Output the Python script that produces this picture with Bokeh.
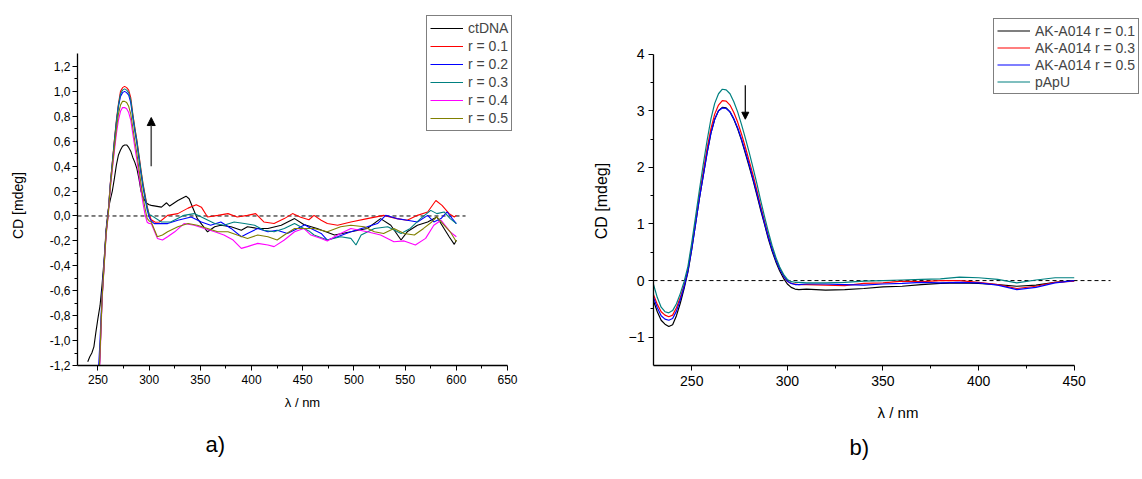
from bokeh.plotting import figure
from bokeh.layouts import row
from bokeh.models import FixedTicker, Legend, LegendItem, Arrow, NormalHead, Title
from bokeh.embed import file_html
from bokeh.resources import INLINE

FONT = "Liberation Sans"

# ---------------- panel a) data ----------------
A_PEAK_NM = [246, 248, 250, 252, 254, 256, 258, 260, 262, 264, 266, 268, 270, 272,
             274, 276, 278, 280, 282, 284, 286, 288, 290, 292, 294, 296, 298, 300]

CT_NM = [240, 242, 244, 246, 248, 250, 252, 254, 256, 258, 260, 262, 264, 266, 268, 270,
         272, 274, 276, 278, 280, 282, 284, 286, 288, 290, 292, 294, 296, 298, 300,
         302, 312, 317, 320, 328, 336, 339, 343, 347, 357, 364, 370, 380, 390, 396, 406,
         416, 429, 442, 451, 464, 481, 497, 513, 526, 536, 546, 552, 562, 572, 581, 586,
         593, 598, 600]
CT_CD = [-1.17, -1.13, -1.10, -1.05, -0.93, -0.82, -0.72, -0.55, -0.35, -0.10, 0.05, 0.13,
         0.20, 0.30, 0.41, 0.49, 0.53, 0.56, 0.57, 0.57, 0.55, 0.52, 0.47, 0.43, 0.38, 0.30,
         0.20, 0.15, 0.12, 0.10, 0.09,
         0.085, 0.071, 0.106, 0.08, 0.124, 0.159, 0.138, 0.058, -0.021, -0.127, -0.087,
         -0.074, -0.087, -0.114, -0.087, -0.10, -0.10, -0.074, -0.021, -0.069, -0.10,
         -0.153, -0.127, -0.10, -0.021, -0.074, -0.193, -0.127, -0.074, -0.048, -0.008,
         -0.074, -0.167, -0.228, -0.193]

R1_PEAK = [-2.2, -1.7, -1.45, -1.1, -0.65, -0.38, -0.12, 0.03, 0.26, 0.43, 0.61, 0.77, 0.90,
           1.00, 1.03, 1.04, 1.03, 1.01, 0.95, 0.82, 0.71, 0.61, 0.49, 0.37, 0.26, 0.17, 0.08, 0.01]
R1_TAIL_NM = [302, 306, 310, 318, 328, 338, 346, 351, 357, 367, 377, 386, 396, 404, 412, 422,
              432, 440, 448, 456, 461, 468, 474, 484, 497, 513, 529, 542, 552, 562, 572, 580,
              586, 593, 598, 600]
R1_TAIL = [-0.03, -0.05, -0.048, 0.005, 0.019, 0.063, 0.09, 0.071, -0.008, 0.005, 0.019,
           -0.008, 0.005, 0.019, -0.048, -0.061, -0.021, 0.019, -0.01, -0.03, 0.005, -0.034,
           -0.061, -0.074, -0.048, -0.021, 0.005, -0.021, -0.034, 0.005, 0.032, 0.124, 0.085,
           0.019, -0.008, 0.005]

R2_PEAK = [-2.0, -1.55, -1.3, -1.0, -0.62, -0.37, -0.12, 0.03, 0.25, 0.42, 0.59, 0.75, 0.88,
           0.96, 0.99, 1.00, 0.99, 0.97, 0.91, 0.79, 0.68, 0.58, 0.46, 0.34, 0.23, 0.14, 0.05, -0.01]
R2_TAIL_NM = [302, 305, 318, 328, 341, 351, 360, 370, 380, 390, 396, 406, 416, 425, 435, 445,
              452, 458, 468, 474, 484, 497, 513, 523, 531, 542, 552, 562, 572, 578, 585, 591,
              596, 600]
R2_TAIL = [-0.04, -0.061, -0.061, -0.034, -0.008, -0.048, -0.074, -0.048, -0.10, -0.167,
           -0.14, -0.10, -0.127, -0.114, -0.14, -0.10, -0.07, -0.10, -0.14, -0.193, -0.167,
           -0.127, -0.087, -0.061, 0.005, -0.021, -0.034, -0.048, 0.005, -0.048, -0.021,
           0.032, -0.021, -0.061]

R3_PEAK = [-2.2, -1.7, -1.45, -1.1, -0.66, -0.39, -0.13, 0.02, 0.25, 0.42, 0.60, 0.76, 0.89,
           0.98, 1.01, 1.02, 1.01, 0.99, 0.93, 0.81, 0.70, 0.60, 0.48, 0.36, 0.25, 0.16, 0.07, 0.01]
R3_TAIL_NM = [302, 312, 321, 334, 344, 354, 364, 373, 383, 393, 403, 412, 422, 432, 442, 451,
              456, 461, 474, 487, 497, 502, 507, 520, 533, 546, 555, 565, 575, 581, 588, 594, 600]
R3_TAIL = [0.005, -0.048, -0.048, 0.005, 0.019, -0.021, -0.061, -0.074, -0.048, -0.061,
           -0.074, -0.114, -0.127, -0.10, -0.061, -0.10, -0.12, -0.153, -0.193, -0.167, -0.18,
           -0.233, -0.153, -0.10, -0.087, -0.14, -0.10, -0.021, 0.045, 0.019, 0.032, -0.021, -0.061]

R4_PEAK = [-2.3, -1.8, -1.5, -1.15, -0.68, -0.41, -0.15, 0.00, 0.22, 0.37, 0.52, 0.66, 0.77,
           0.84, 0.87, 0.87, 0.86, 0.83, 0.77, 0.66, 0.55, 0.45, 0.33, 0.21, 0.10, 0.01, -0.05, -0.06]
R4_TAIL_NM = [302, 308, 313, 318, 325, 334, 344, 354, 364, 373, 382, 390, 396, 406, 416, 422,
              432, 442, 451, 458, 468, 474, 484, 497, 513, 526, 539, 549, 560, 570, 578, 585,
              594, 600]
R4_TAIL = [-0.061, -0.18, -0.193, -0.167, -0.127, -0.061, -0.074, -0.10, -0.127, -0.153,
           -0.193, -0.26, -0.246, -0.22, -0.233, -0.246, -0.193, -0.127, -0.10, -0.153, -0.18,
           -0.20, -0.153, -0.10, -0.127, -0.153, -0.207, -0.20, -0.233, -0.18, -0.074, -0.034,
           -0.127, -0.167]

R5_PEAK = [-2.2, -1.7, -1.45, -1.1, -0.66, -0.40, -0.14, 0.01, 0.23, 0.39, 0.55, 0.70, 0.82,
           0.89, 0.92, 0.92, 0.91, 0.88, 0.82, 0.71, 0.60, 0.50, 0.38, 0.26, 0.15, 0.06, -0.02, -0.04]
R5_TAIL_NM = [302, 308, 313, 318, 328, 338, 347, 357, 367, 377, 386, 396, 406, 416, 425, 432,
              442, 451, 461, 474, 487, 497, 510, 520, 529, 539, 549, 559, 568, 576, 581, 588,
              594, 600]
R5_TAIL = [-0.048, -0.167, -0.153, -0.127, -0.087, -0.061, -0.074, -0.10, -0.127, -0.127,
           -0.153, -0.18, -0.153, -0.167, -0.193, -0.153, -0.10, -0.10, -0.10, -0.127, -0.087,
           -0.074, -0.087, -0.127, -0.14, -0.10, -0.14, -0.153, -0.10, -0.048, -0.008, -0.074,
           -0.127, -0.207]

A_LABELS = ["ctDNA", "r = 0.1", "r = 0.2", "r = 0.3", "r = 0.4", "r = 0.5"]
A_COLORS = ["#000000", "#FF0000", "#0000FF", "#008080", "#FF00FF", "#808000"]
A_YTICKS = [-1.2, -1.0, -0.8, -0.6, -0.4, -0.2, 0.0, 0.2, 0.4, 0.6, 0.8, 1.0, 1.2]
A_XTICKS = [250, 300, 350, 400, 450, 500, 550, 600, 650]

# ---------------- panel b) data ----------------
B_NM = [230, 232, 234, 236, 238, 240, 242, 244, 246, 248, 250, 252, 254, 256, 258, 260, 262,
        264, 266, 268, 270, 272, 274, 276, 278, 280, 282, 284, 286, 288, 290, 292, 294, 296,
        298, 300, 302, 304, 306,
        310, 320, 330, 340, 350, 360, 370, 380, 390, 400, 410, 420, 430, 440, 450]
B_R01 = [-0.36, -0.55, -0.70, -0.77, -0.81, -0.78, -0.62, -0.40, -0.14, 0.15, 0.55, 1.00,
         1.45, 1.85, 2.25, 2.60, 2.85, 3.00, 3.06, 3.05, 2.98, 2.85, 2.68, 2.48, 2.25, 2.02,
         1.78, 1.52, 1.25, 1.00, 0.74, 0.52, 0.33, 0.17, 0.04, -0.06, -0.12, -0.15, -0.16,
         -0.15, -0.17, -0.16, -0.14, -0.11, -0.10, -0.07, -0.05, -0.04, -0.05, -0.07, -0.10,
         -0.08, -0.03, 0.00]
B_R03 = [-0.25, -0.42, -0.55, -0.61, -0.64, -0.61, -0.48, -0.30, -0.08, 0.20, 0.60, 1.05,
         1.50, 1.92, 2.33, 2.68, 2.94, 3.10, 3.18, 3.17, 3.10, 2.97, 2.80, 2.59, 2.36, 2.12,
         1.87, 1.60, 1.32, 1.06, 0.80, 0.57, 0.37, 0.21, 0.08, -0.01, -0.05, -0.06, -0.07,
         -0.07, -0.08, -0.09, -0.05, -0.04, -0.01, -0.02, 0.00, 0.00, -0.03, -0.07, -0.14,
         -0.10, -0.03, -0.01]
B_R05 = [-0.30, -0.48, -0.62, -0.68, -0.70, -0.67, -0.54, -0.34, -0.11, 0.17, 0.56, 1.00,
         1.45, 1.85, 2.25, 2.60, 2.85, 3.00, 3.05, 3.04, 2.98, 2.86, 2.70, 2.50, 2.28, 2.05,
         1.80, 1.55, 1.28, 1.02, 0.77, 0.55, 0.36, 0.20, 0.08, -0.01, -0.05, -0.07, -0.07,
         -0.06, -0.06, -0.07, -0.08, -0.06, -0.05, -0.03, -0.04, -0.03, -0.04, -0.08, -0.16,
         -0.12, -0.04, 0.00]
B_PAPU = [-0.07, -0.30, -0.47, -0.55, -0.57, -0.53, -0.41, -0.23, -0.02, 0.25, 0.67, 1.13,
          1.60, 2.05, 2.47, 2.85, 3.13, 3.30, 3.38, 3.37, 3.30, 3.16, 2.98, 2.76, 2.52, 2.27,
          2.00, 1.72, 1.42, 1.14, 0.87, 0.62, 0.41, 0.24, 0.11, 0.02, -0.02, -0.03, -0.03,
          -0.04, -0.04, -0.03, -0.01, 0.00, 0.01, 0.02, 0.03, 0.06, 0.05, 0.02, -0.04, 0.01,
          0.05, 0.05]
B_LABELS = ["AK-A014 r = 0.1", "AK-A014 r = 0.3", "AK-A014 r = 0.5", "pApU"]
B_COLORS = ["#000000", "#FF0000", "#0000FF", "#008080"]
B_YTICKS = [-1, 0, 1, 2, 3, 4]
B_XTICKS = [250, 300, 350, 400, 450]

NB = "\u00a0"


def style_axes(p, tick_size, label_size):
    for ax in (p.xaxis[0], p.yaxis[0]):
        ax.axis_line_color = "black"
        ax.axis_line_width = 1.3
        ax.major_tick_line_color = "black"
        ax.minor_tick_line_color = "black"
        ax.major_tick_out = 5
        ax.major_tick_in = 0
        ax.minor_tick_out = 3
        ax.minor_tick_in = 0
        ax.major_label_text_font = FONT
        ax.major_label_text_font_size = tick_size
        ax.major_label_text_color = "black"
        ax.axis_label_text_font = FONT
        ax.axis_label_text_font_size = label_size
        ax.axis_label_text_font_style = "normal"
        ax.axis_label_text_color = "black"
    p.xgrid.visible = False
    p.ygrid.visible = False
    p.outline_line_color = None


def panel_title(p, text, offset, standoff):
    p.add_layout(Title(text=text, align="left", offset=offset, standoff=standoff,
                       text_font=FONT, text_font_size="22px", text_font_style="normal",
                       text_color="black"), "below")


def make_legend(items, loc, label_h):
    return Legend(items=items, location=loc, border_line_color="black",
                  border_line_width=1, background_fill_color="white", background_fill_alpha=1,
                  label_text_font=FONT, label_text_font_size="14px", padding=3, spacing=0,
                  margin=0, glyph_width=33, glyph_height=label_h, label_height=label_h,
                  label_standoff=5)


# ---------------- figure a ----------------
pa = figure(width=568, height=479, x_range=(230, 669.5), y_range=(-1.2, 1.617),
            output_backend="svg", toolbar_location=None,
            min_border_left=77, min_border_right=41, min_border_top=10, min_border_bottom=114)
style_axes(pa, "12px", "13px")
pa.yaxis[0].axis_label_text_font_size = "14px"
pa.xaxis.axis_label = "λ / nm"
pa.yaxis.axis_label = "CD [mdeg]" + NB * 8
pa.xaxis.bounds = (230, 650)
pa.yaxis.bounds = (-1.2, 1.3)
pa.xaxis.ticker = FixedTicker(ticks=A_XTICKS, minor_ticks=[275, 325, 375, 425, 475, 525, 575, 625])
pa.yaxis.ticker = FixedTicker(ticks=A_YTICKS,
                              minor_ticks=[-1.1, -0.9, -0.7, -0.5, -0.3, -0.1, 0.1, 0.3, 0.5, 0.7, 0.9, 1.1])
pa.yaxis.major_label_overrides = {v: ("%.1f" % v).replace(".", ",") for v in A_YTICKS}
pa.yaxis.major_label_standoff = 2
pa.xaxis.major_label_standoff = 4
pa.yaxis.axis_label_standoff = 21
pa.xaxis.axis_label_standoff = 8

pa.line([230, 609], [0, 0], line_color="black", line_dash="4 3", line_width=1)

a_series = [
    (CT_NM, CT_CD),
    (A_PEAK_NM + R1_TAIL_NM, R1_PEAK + R1_TAIL),
    (A_PEAK_NM + R2_TAIL_NM, R2_PEAK + R2_TAIL),
    (A_PEAK_NM + R3_TAIL_NM, R3_PEAK + R3_TAIL),
    (A_PEAK_NM + R4_TAIL_NM, R4_PEAK + R4_TAIL),
    (A_PEAK_NM + R5_TAIL_NM, R5_PEAK + R5_TAIL),
]
a_items = []
for (xs, ys), lab, col in zip(a_series, A_LABELS, A_COLORS):
    r = pa.line(xs, ys, line_color=col, line_width=1.1)
    a_items.append(LegendItem(label=lab, renderers=[r]))

pa.add_layout(make_legend(a_items, (349, 234), 18))

pa.add_layout(Arrow(end=NormalHead(size=8, fill_color="black", line_color="black"),
                    x_start=302, y_start=0.40, x_end=302, y_end=0.79,
                    line_color="#555555", line_width=1.6))
panel_title(pa, "a)", 128, 34)

# ---------------- figure b ----------------
pb = figure(width=574, height=479, x_range=(230, 485.7), y_range=(-1.5, 4.70),
            output_backend="svg", toolbar_location=None,
            min_border_left=85, min_border_right=0, min_border_top=14, min_border_bottom=113)
style_axes(pb, "14px", "15px")
pb.yaxis[0].axis_label_text_font_size = "16px"
pb.xaxis.axis_label = "λ / nm"
pb.yaxis.axis_label = "CD [mdeg]" + NB * 5
pb.xaxis.bounds = (230, 450)
pb.yaxis.bounds = (-1.5, 4.0)
pb.xaxis.ticker = FixedTicker(ticks=B_XTICKS, minor_ticks=[275, 325, 375, 425])
pb.yaxis.ticker = FixedTicker(ticks=B_YTICKS, minor_ticks=[-0.5, 0.5, 1.5, 2.5, 3.5])
pb.yaxis.major_label_standoff = 4
pb.xaxis.major_label_standoff = 5
pb.yaxis.axis_label_standoff = 16
pb.xaxis.axis_label_standoff = 15

pb.line([230, 469], [0, 0], line_color="black", line_dash="4 3", line_width=1)

b_items = []
for ys, lab, col in zip([B_R01, B_R03, B_R05, B_PAPU], B_LABELS, B_COLORS):
    r = pb.line(B_NM, ys, line_color=col, line_width=1.2)
    b_items.append(LegendItem(label=lab, renderers=[r]))

pb.add_layout(make_legend(b_items, (340, 271), 17))

pb.add_layout(Arrow(end=NormalHead(size=7, fill_color="black", line_color="black"),
                    x_start=278, y_start=3.45, x_end=278, y_end=2.85,
                    line_color="black", line_width=1.2))
panel_title(pb, "b)", 196, 18)

layout = row(pa, pb, spacing=0)
open("out.html", "w").write(file_html(layout, INLINE))
